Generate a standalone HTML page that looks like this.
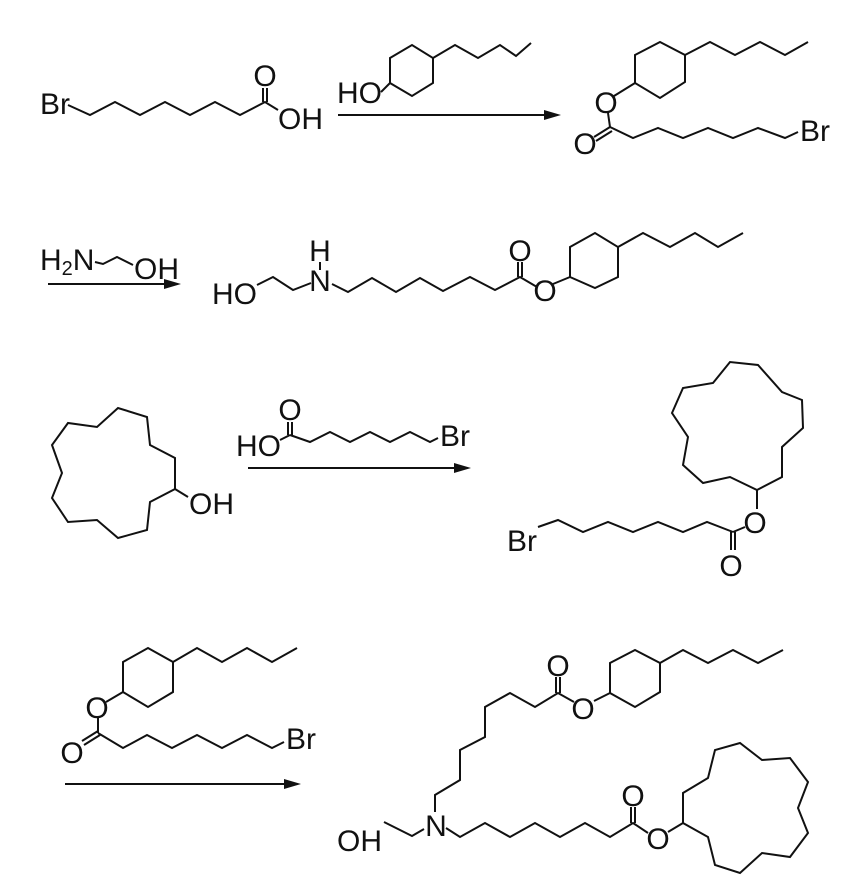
<!DOCTYPE html>
<html><head><meta charset="utf-8"><style>
html,body{margin:0;padding:0;background:#fff;}
svg{display:block;}
text{font-family:"Liberation Sans",Arial,sans-serif;font-size:30px;fill:#111;}
.m{text-anchor:middle;}
</style></head><body>
<svg width="867" height="893" viewBox="0 0 867 893" xmlns="http://www.w3.org/2000/svg">
<g fill="none" stroke="#111" stroke-width="2" stroke-linejoin="miter">
<polyline points="68,105 90,115 115,102 140,115 165,102 190,115 215,102 240,115 265,102 278,110"/>
<line x1="263" y1="102" x2="263" y2="88"/><line x1="267" y1="102" x2="267" y2="88"/>
<polygon points="390,58 412,45 433,58 433,83 412,96 390,83"/>
<polyline points="381,92 390,83"/>
<polyline points="433,58 455,45 478,58 500,45 516,56 531,43"/>
<line x1="338" y1="115" x2="548" y2="115"/>
<polygon points="635,55 660,42 685,55 685,82 660,98 635,83"/>
<polyline points="685,55 710,42 735,55 760,42 785,55 808,42"/>
<line x1="635" y1="83" x2="614" y2="96"/>
<line x1="608" y1="113" x2="610" y2="127"/>
<line x1="610" y1="127" x2="594" y2="137"/><line x1="612" y1="131" x2="596" y2="141"/>
<polyline points="610,127 633,138 658,128 683,138 708,128 733,138 758,128 785,138 798,132"/>
<polyline points="95,262 103,264 117,257 133,265"/>
<line x1="48" y1="284" x2="168" y2="284"/>
<polyline points="257,285 273,277 293,290 311,283"/>
<line x1="320" y1="262" x2="320" y2="270"/>
<polyline points="332,284 348,292 372,278 396,292 420,278 443,291 470,277 495,290 520,277 537,287"/>
<line x1="518" y1="277" x2="518" y2="262"/><line x1="522" y1="277" x2="522" y2="262"/>
<line x1="553" y1="284" x2="570" y2="277"/>
<polygon points="570,247 595,233 618,247 618,277 595,288 570,277"/>
<polyline points="618,247 643,233 670,247 695,233 718,247 743,233"/>
<polygon points="175,489 175,458 150,445 147,417 118,408 97,427 68,423 52,445 62,473 52,498 68,522 97,520 118,538 147,530 150,502"/>
<line x1="175" y1="489" x2="188" y2="497"/>
<line x1="280" y1="440" x2="290" y2="435"/>
<line x1="288" y1="435" x2="288" y2="422"/><line x1="292" y1="435" x2="292" y2="422"/>
<polyline points="290,435 310,442 330,432 350,442 370,432 390,442 410,432 430,442 438,438"/>
<line x1="248" y1="468" x2="458" y2="468"/>
<polygon points="757,490 782,477 782,447 803,428 802,400 782,392 758,365 730,362 713,383 683,388 672,413 688,437 683,465 703,483 730,477"/>
<line x1="757" y1="490" x2="757" y2="509"/>
<line x1="745" y1="527" x2="733" y2="532"/>
<line x1="731" y1="532" x2="731" y2="550"/><line x1="735" y1="532" x2="735" y2="550"/>
<polyline points="733,532 707,522 683,532 658,522 633,532 608,522 583,532 558,520 538,527"/>
<polygon points="123,662 148,648 173,662 173,692 148,707 123,692"/>
<polyline points="173,662 197,648 222,662 247,648 272,662 297,648"/>
<line x1="123" y1="692" x2="106" y2="702"/>
<line x1="98" y1="718" x2="98" y2="733"/>
<line x1="98" y1="731" x2="82" y2="741"/><line x1="100" y1="735" x2="84" y2="745"/>
<polyline points="98,733 123,748 147,735 172,748 197,735 222,748 247,735 272,748 284,742"/>
<line x1="65" y1="784" x2="288" y2="784"/>
<polyline points="384,822 412,836 424,829"/>
<polyline points="435,812 435,795 460,780 460,750 485,737 485,707 510,693 535,707 558,693 574,702"/>
<line x1="556" y1="693" x2="556" y2="677"/><line x1="560" y1="693" x2="560" y2="677"/>
<line x1="594" y1="701" x2="610" y2="693"/>
<polygon points="610,693 610,663 635,650 660,663 660,692 635,707"/>
<polyline points="660,663 683,650 708,663 733,650 758,663 783,650"/>
<polyline points="446,828 460,837 485,823 510,837 535,823 560,837 585,823 610,837 633,823 648,833"/>
<line x1="631" y1="823" x2="631" y2="807"/><line x1="635" y1="823" x2="635" y2="807"/>
<line x1="668" y1="832" x2="683" y2="823"/>
<polygon points="683,823 683,793 708,778 715,750 740,743 762,760 790,758 808,782 798,808 808,833 790,857 762,853 740,873 715,865 708,837"/>
</g>
<g fill="#111">
<polygon points="561,115 544,110 544,120"/>
<polygon points="181,284 164,279 164,289"/>
<polygon points="471,468 454,463 454,473"/>
<polygon points="301,784 284,779 284,789"/>
</g>
<text x="40" y="114">Br</text>
<text class="m" x="265" y="86">O</text>
<text x="278" y="129">OH</text>
<text x="337" y="103">HO</text>
<text class="m" x="606" y="113">O</text>
<text class="m" x="585" y="154">O</text>
<text x="800" y="141">Br</text>
<text x="40" y="270">H<tspan font-size="20" dy="5">2</tspan><tspan dy="-5">N</tspan></text>
<text x="134" y="279">OH</text>
<text x="212" y="304">HO</text>
<text class="m" x="320" y="291">N</text>
<text class="m" x="320" y="261">H</text>
<text class="m" x="520" y="261">O</text>
<text class="m" x="545" y="301">O</text>
<text x="189" y="514">OH</text>
<text x="236" y="456">HO</text>
<text class="m" x="290" y="420">O</text>
<text x="440" y="446">Br</text>
<text class="m" x="755" y="533">O</text>
<text class="m" x="731" y="576">O</text>
<text x="507" y="551">Br</text>
<text class="m" x="97" y="718">O</text>
<text class="m" x="72" y="763">O</text>
<text x="286" y="749">Br</text>
<text x="337" y="851">OH</text>
<text class="m" x="436" y="836">N</text>
<text class="m" x="558" y="676">O</text>
<text class="m" x="583" y="719">O</text>
<text class="m" x="633" y="806">O</text>
<text class="m" x="658" y="849">O</text>
</svg>
</body></html>
